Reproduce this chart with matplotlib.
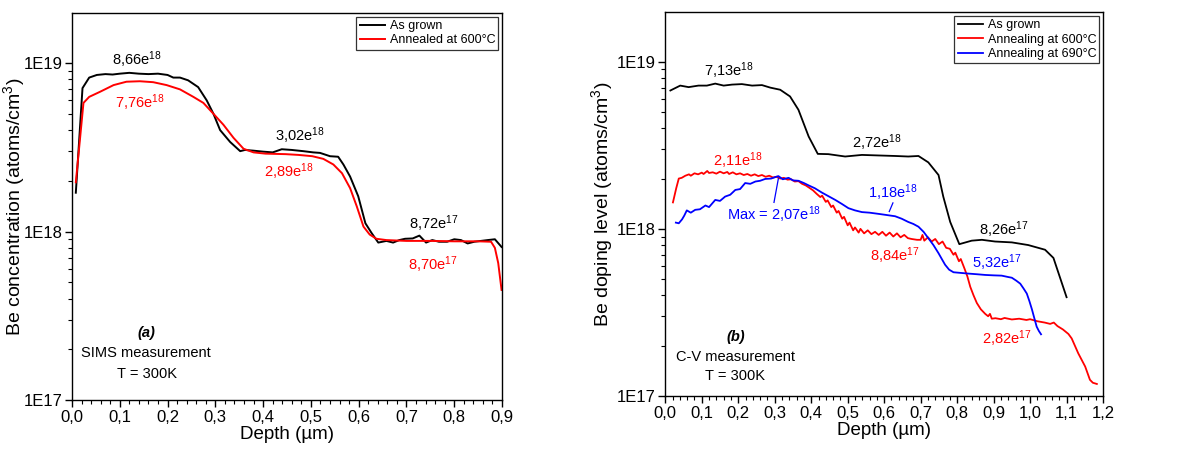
import math
import matplotlib
matplotlib.use("Agg")
import matplotlib.pyplot as plt
from matplotlib.ticker import FixedLocator, FuncFormatter, LogLocator, MultipleLocator, NullFormatter

plt.rcParams["font.family"] = ["Liberation Sans", "DejaVu Sans"]
plt.rcParams["mathtext.fontset"] = "custom"
plt.rcParams["mathtext.rm"] = "Liberation Sans"
plt.rcParams["mathtext.it"] = "Liberation Sans:italic"

E18 = 1e18

# ---- (a) SIMS -------------------------------------------------------------
sims_grown_x = [0.008, 0.022, 0.036, 0.052, 0.07, 0.085, 0.1, 0.12, 0.14, 0.16, 0.18,
                0.2, 0.212, 0.226, 0.243, 0.264, 0.282, 0.296, 0.31, 0.331, 0.352,
                0.362, 0.38, 0.4, 0.42, 0.439, 0.46, 0.484, 0.505, 0.519, 0.54,
                0.557, 0.568, 0.582, 0.599, 0.614, 0.627, 0.641, 0.658, 0.672,
                0.685, 0.697, 0.713, 0.727, 0.741, 0.754, 0.768, 0.785, 0.8, 0.814,
                0.828, 0.842, 0.856, 0.87, 0.885, 0.899]
sims_grown_y = [1.70, 7.1, 8.2, 8.5, 8.6, 8.55, 8.65, 8.75, 8.65, 8.6, 8.65,
                8.5, 8.2, 8.2, 7.9, 7.2, 6.0, 5.0, 4.0, 3.4, 3.0,
                3.05, 3.02, 2.98, 2.95, 3.08, 3.05, 3.0, 2.95, 2.93, 2.8,
                2.78, 2.5, 2.12, 1.62, 1.12, 0.98, 0.86, 0.88, 0.86,
                0.89, 0.906, 0.91, 0.946, 0.86, 0.89, 0.87, 0.87, 0.90, 0.89,
                0.85, 0.87, 0.88, 0.89, 0.90, 0.81]

sims_ann_x = [0.008, 0.024, 0.036, 0.059, 0.087, 0.114, 0.142, 0.17, 0.198, 0.226,
              0.254, 0.275, 0.296, 0.317, 0.338, 0.359, 0.38, 0.405, 0.447, 0.474,
              0.503, 0.526, 0.547, 0.565, 0.582, 0.596, 0.61, 0.623, 0.637, 0.658,
              0.7, 0.75, 0.8, 0.85, 0.877, 0.885, 0.892, 0.899]
sims_ann_y = [1.96, 5.8, 6.3, 6.76, 7.4, 7.75, 7.8, 7.7, 7.4, 6.98,
              6.3, 5.8, 5.0, 4.3, 3.6, 3.1, 2.95, 2.9, 2.88, 2.85,
              2.8, 2.7, 2.5, 2.22, 1.81, 1.41, 1.07, 0.96, 0.906, 0.89,
              0.88, 0.88, 0.875, 0.875, 0.87, 0.80, 0.65, 0.45]

# ---- (b) C-V ----------------------------------------------------------------
cv_grown_x = [0.014, 0.041, 0.064, 0.091, 0.114, 0.137, 0.16, 0.183, 0.21, 0.238,
              0.265, 0.288, 0.315, 0.342, 0.365, 0.393, 0.418, 0.447, 0.493, 0.539,
              0.584, 0.63, 0.666, 0.694, 0.721, 0.749, 0.762, 0.781, 0.806, 0.84,
              0.868, 0.904, 0.95, 0.995, 1.041, 1.064, 1.1]
cv_grown_y = [6.73, 7.2, 7.05, 7.2, 7.2, 7.4, 7.2, 7.3, 7.35, 7.2,
              7.25, 7.0, 6.8, 6.2, 5.16, 3.57, 2.81, 2.8, 2.71, 2.77,
              2.75, 2.73, 2.71, 2.73, 2.5, 2.1, 1.56, 1.1, 0.81, 0.85,
              0.86, 0.84, 0.83, 0.80, 0.75, 0.67, 0.39]

cv_600_x = [0.021, 0.03, 0.037, 0.045, 0.055, 0.065, 0.07, 0.08, 0.09, 0.1,
            0.105, 0.115, 0.12, 0.13, 0.14, 0.15, 0.16, 0.17, 0.175, 0.185,
            0.195, 0.205, 0.215, 0.225, 0.235, 0.245, 0.255, 0.265, 0.275, 0.285,
            0.295, 0.305, 0.315, 0.325, 0.335, 0.345, 0.355, 0.365, 0.375, 0.385,
            0.395, 0.405, 0.415, 0.425, 0.43, 0.44, 0.445, 0.455, 0.46, 0.47,
            0.475, 0.485, 0.49, 0.5, 0.505, 0.515, 0.52, 0.53, 0.535, 0.545,
            0.555, 0.565, 0.575, 0.585, 0.595, 0.605, 0.615, 0.625, 0.635, 0.645,
            0.655, 0.665, 0.675, 0.69, 0.7, 0.705, 0.71, 0.72, 0.73, 0.74,
            0.75, 0.76, 0.77, 0.78, 0.79, 0.795, 0.805, 0.81, 0.82, 0.828,
            0.836, 0.845, 0.854, 0.865, 0.877, 0.885, 0.89, 0.895, 0.905, 0.92,
            0.93, 0.95, 0.97, 0.99, 1.0, 1.02, 1.04, 1.055, 1.065, 1.075,
            1.09, 1.105, 1.114, 1.132, 1.151, 1.164, 1.172, 1.183]
cv_600_y = [1.44, 1.75, 2.0, 2.02, 2.08, 2.12, 2.08, 2.15, 2.12, 2.17,
            2.13, 2.22, 2.16, 2.18, 2.14, 2.2, 2.15, 2.19, 2.13, 2.18,
            2.12, 2.15, 2.1, 2.13, 2.08, 2.12, 2.07, 2.1, 2.05, 2.08,
            2.03, 2.05, 2.0, 2.02, 1.97, 1.98, 1.92, 1.93, 1.86, 1.82,
            1.76, 1.7, 1.62, 1.55, 1.58, 1.45, 1.48, 1.35, 1.38, 1.25,
            1.28, 1.15, 1.18, 1.05, 1.09, 0.98, 1.02, 0.95, 1.0, 0.94,
            0.98, 0.93, 0.96, 0.92, 0.96, 0.91, 0.95, 0.9, 0.94, 0.89,
            0.92, 0.88, 0.87, 0.86, 0.86, 0.92, 0.85, 0.89, 0.84, 0.87,
            0.81, 0.84, 0.77, 0.76, 0.7, 0.72, 0.64, 0.66, 0.58, 0.52,
            0.45, 0.4, 0.36, 0.33, 0.31, 0.3, 0.31, 0.29, 0.292, 0.288,
            0.293, 0.287, 0.29, 0.285, 0.288, 0.28, 0.275, 0.27, 0.275, 0.262,
            0.25, 0.235, 0.221, 0.18, 0.15, 0.125, 0.12, 0.118]

cv_690_x = [0.029, 0.037, 0.046, 0.052, 0.059, 0.07, 0.082, 0.095, 0.11, 0.12,
            0.137, 0.15, 0.164, 0.178, 0.192, 0.205, 0.219, 0.233, 0.247, 0.26,
            0.274, 0.29, 0.31, 0.322, 0.338, 0.35, 0.365, 0.38, 0.393, 0.41,
            0.429, 0.447, 0.466, 0.484, 0.502, 0.52, 0.539, 0.56, 0.584, 0.607,
            0.63, 0.648, 0.666, 0.68, 0.694, 0.708, 0.721, 0.735, 0.749, 0.758,
            0.767, 0.778, 0.79, 0.81, 0.831, 0.855, 0.877, 0.9, 0.922, 0.94,
            0.95, 0.962, 0.973, 0.982, 0.991, 0.998, 1.005, 1.012, 1.018, 1.024, 1.03]
cv_690_y = [1.09, 1.08, 1.14, 1.2, 1.29, 1.25, 1.3, 1.31, 1.38, 1.35,
            1.49, 1.47, 1.56, 1.6, 1.71, 1.73, 1.88, 1.86, 1.92, 1.94,
            1.99, 2.0, 2.07, 1.98, 2.02, 1.95, 1.94, 1.88, 1.82, 1.75,
            1.65, 1.57, 1.49, 1.41, 1.33, 1.29, 1.26, 1.25, 1.23, 1.21,
            1.19, 1.15, 1.1, 1.07, 1.03, 0.96, 0.88, 0.8, 0.715, 0.66,
            0.61, 0.57, 0.55, 0.545, 0.54, 0.535, 0.53, 0.527, 0.525, 0.515,
            0.51, 0.49, 0.47, 0.44, 0.41, 0.37, 0.33, 0.29, 0.26, 0.245, 0.234]

BLACK, RED, BLUE = "#000000", "#ff0000", "#0000ff"


def style_axes(ax, xmax, ylabel, ylab_x):
    ax.set_yscale("log")
    ax.set_xlim(0, xmax)
    ax.set_ylim(1e17, 1.98e19)
    ax.xaxis.set_major_locator(MultipleLocator(0.1))
    ax.xaxis.set_minor_locator(MultipleLocator(0.02))
    ax.xaxis.set_major_formatter(FuncFormatter(lambda v, p: f"{v:.1f}".replace(".", ",")))
    ax.yaxis.set_major_locator(FixedLocator([1e17, 1e18, 1e19]))
    ax.yaxis.set_major_formatter(FuncFormatter(lambda v, p: f"1E{round(math.log10(v))}"))
    ax.yaxis.set_minor_locator(LogLocator(base=10, subs=range(2, 10)))
    ax.yaxis.set_minor_formatter(NullFormatter())
    ax.tick_params(which="both", direction="out", top=False, right=False, labelsize=12)
    ax.tick_params(which="major", length=5, width=1, pad=2)
    ax.tick_params(which="minor", length=3, width=0.8)
    for s in ax.spines.values():
        s.set_linewidth(1.0)
    ax.set_xlabel("Depth (µm)", fontsize=13.5, labelpad=1)
    ax.set_ylabel(ylabel, fontsize=14)
    ax.yaxis.set_label_coords(ylab_x, 0.5)


def note(ax, x, y, txt, color, size=10.5, **kw):
    ax.text(x, y, txt, color=color, fontsize=size, ha="center", va="center", **kw)


def add_legend(ax):
    leg = ax.legend(loc="upper right", fontsize=9, frameon=True, fancybox=False,
                    edgecolor="black", borderaxespad=0.3, handlelength=2.0,
                    labelspacing=0.2, borderpad=0.25, handletextpad=0.4)
    leg.get_frame().set_linewidth(0.9)


fig = plt.figure(figsize=(11.88, 4.51), dpi=100)
ax1 = fig.add_axes([0.0606, 0.113, 0.362, 0.858])
ax2 = fig.add_axes([0.560, 0.122, 0.3685, 0.851])

# panel (a)
ax1.plot(sims_grown_x, [v * E18 for v in sims_grown_y], color=BLACK, lw=1.4, label="As grown")
ax1.plot(sims_ann_x, [v * E18 for v in sims_ann_y], color=RED, lw=1.4, label="Annealed at 600°C")
style_axes(ax1, 0.9, "Be concentration (atoms/cm$^3$)", -0.105)
add_legend(ax1)
note(ax1, 0.136, 1.05e19, "8,66e$^{18}$", BLACK)
note(ax1, 0.142, 5.8e18, "7,76e$^{18}$", RED)
note(ax1, 0.476, 3.7e18, "3,02e$^{18}$", BLACK)
note(ax1, 0.453, 2.27e18, "2,89e$^{18}$", RED)
note(ax1, 0.756, 1.11e18, "8,72e$^{17}$", BLACK)
note(ax1, 0.755, 6.4e17, "8,70e$^{17}$", RED)
note(ax1, 0.156, 2.5e17, "(a)", BLACK, fontweight="bold", fontstyle="italic")
note(ax1, 0.154, 1.89e17, "SIMS measurement", BLACK)
note(ax1, 0.156, 1.43e17, "T = 300K", BLACK)

# panel (b)
ax2.plot(cv_grown_x, [v * E18 for v in cv_grown_y], color=BLACK, lw=1.3, label="As grown")
ax2.plot(cv_600_x, [v * E18 for v in cv_600_y], color=RED, lw=1.3, label="Annealing at 600°C")
ax2.plot(cv_690_x, [v * E18 for v in cv_690_y], color=BLUE, lw=1.3, label="Annealing at 690°C")
style_axes(ax2, 1.2, "Be doping level (atoms/cm$^3$)", -0.114)
add_legend(ax2)
note(ax2, 0.173, 8.87e18, "7,13e$^{18}$", BLACK)
note(ax2, 0.580, 3.29e18, "2,72e$^{18}$", BLACK)
note(ax2, 0.927, 9.86e17, "8,26e$^{17}$", BLACK)
note(ax2, 0.199, 2.56e18, "2,11e$^{18}$", RED)
note(ax2, 0.625, 1.64e18, "1,18e$^{18}$", BLUE)
note(ax2, 0.297, 1.21e18, "Max = 2,07e$^{18}$", BLUE)
note(ax2, 0.630, 6.9e17, "8,84e$^{17}$", RED)
note(ax2, 0.910, 6.24e17, "5,32e$^{17}$", BLUE)
note(ax2, 0.936, 2.19e17, "2,82e$^{17}$", RED)
ax2.plot([0.298, 0.310], [1.44e18, 2.0e18], color=BLUE, lw=0.9)
ax2.plot([0.614, 0.624], [1.27e18, 1.43e18], color=BLUE, lw=0.9)
note(ax2, 0.192, 2.26e17, "(b)", BLACK, fontweight="bold", fontstyle="italic")
note(ax2, 0.192, 1.71e17, "C-V measurement", BLACK)
note(ax2, 0.192, 1.31e17, "T = 300K", BLACK)

fig.savefig("out.png", dpi=100)
